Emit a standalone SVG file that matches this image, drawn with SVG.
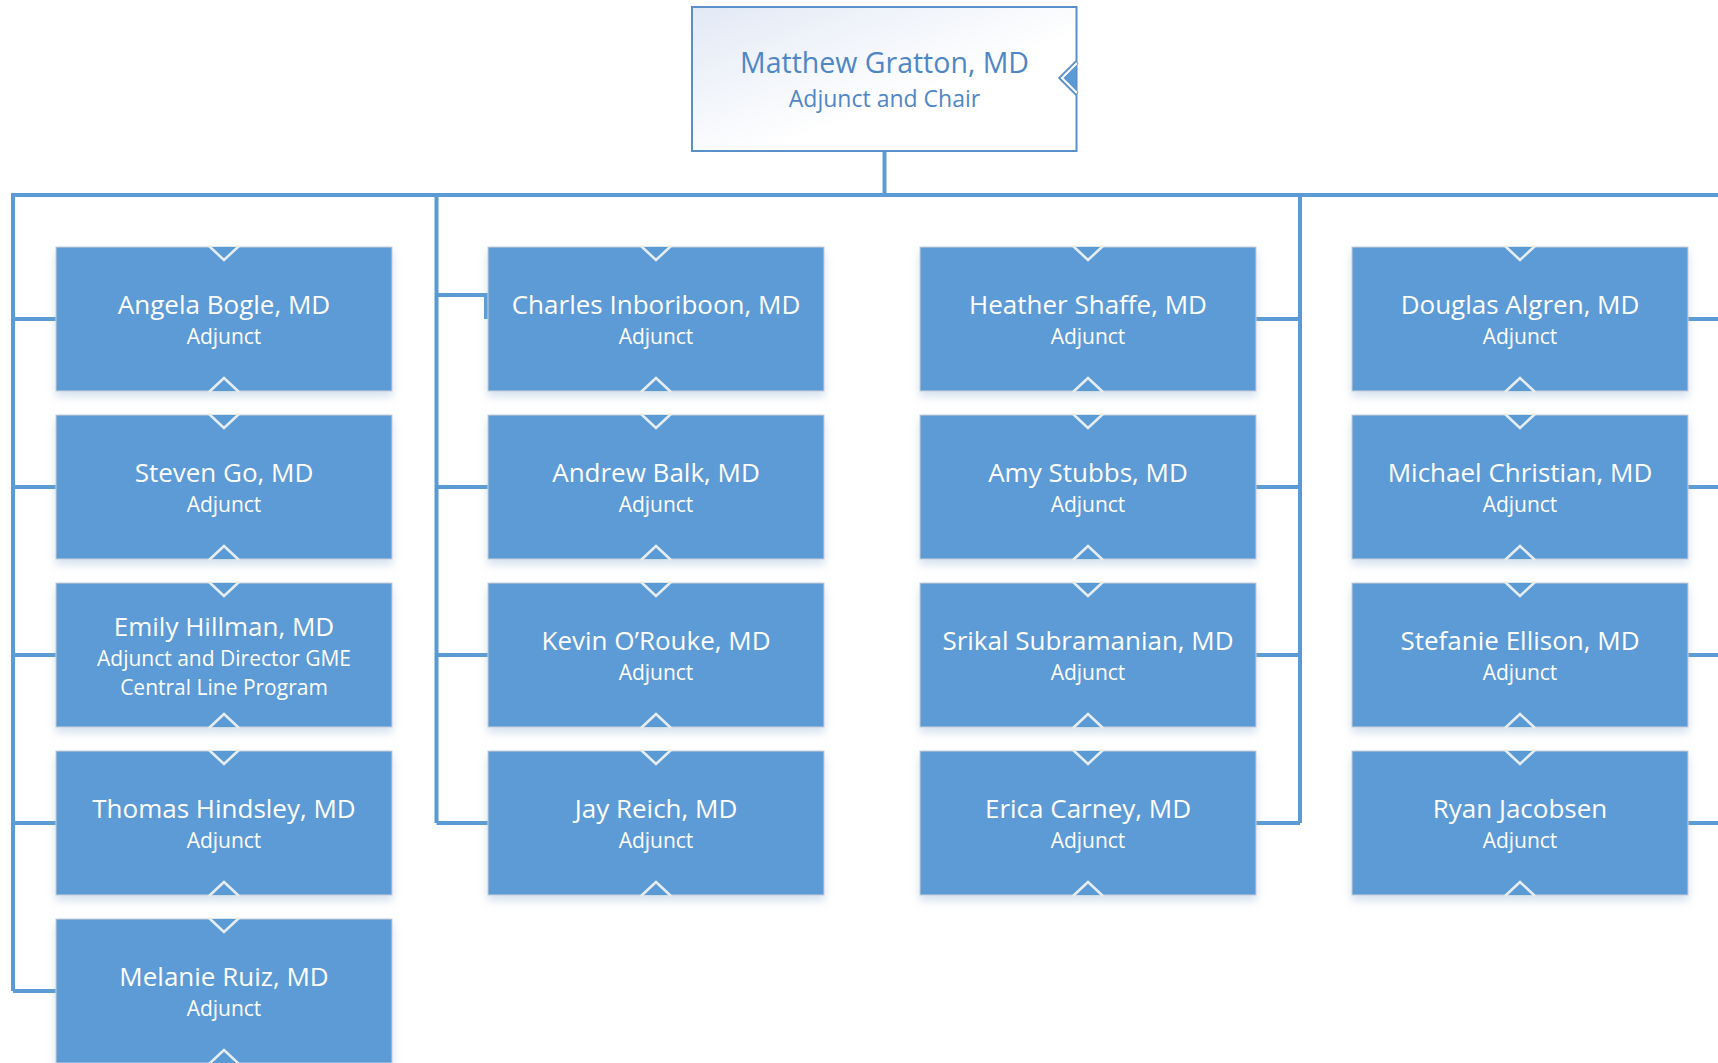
<svg xmlns="http://www.w3.org/2000/svg" xmlns:xlink="http://www.w3.org/1999/xlink" width="1718" height="1063" viewBox="0 0 1718 1063">
<style>
.ln{fill:none;stroke:#5b9bd5;stroke-width:4}
.nm{font-family:"Open Sans","Noto Sans",sans-serif;font-size:26px;fill:#ffffff;text-anchor:middle}
.sb{font-family:"Open Sans","Noto Sans",sans-serif;font-size:21px;fill:#ffffff;text-anchor:middle}
.tn{font-family:"Open Sans","Noto Sans",sans-serif;font-size:28.5px;fill:#4f87c5;text-anchor:middle}
.ts{font-family:"Open Sans","Noto Sans",sans-serif;font-size:23px;fill:#4f87c5;text-anchor:middle}
</style>
<defs>
<linearGradient id="tg" x1="0" y1="0" x2="1" y2="1">
<stop offset="0" stop-color="#e2e9f5"/>
<stop offset="0.6" stop-color="#ffffff"/>
</linearGradient>
<filter id="sh" x="-10%" y="-10%" width="120%" height="140%">
<feDropShadow dx="0" dy="5" stdDeviation="4" flood-color="#7fa6cc" flood-opacity="0.35"/>
</filter>
<g id="card">
<rect x="0" y="0" width="336" height="144" fill="#5b9bd5" stroke="#c9d0d8" stroke-width="1" filter="url(#sh)"/>
<polygon points="154,0 168,13 182,0" fill="#5b9bd5"/>
<polyline points="153,-1 168,13 183,-1" fill="none" stroke="#e6edf4" stroke-width="2.5"/>
<polygon points="154,144 168,131 182,144" fill="#5b9bd5"/>
<polyline points="153,145 168,131 183,145" fill="none" stroke="#e6edf4" stroke-width="2.5"/>
</g>
</defs>
<rect width="1718" height="1063" fill="#ffffff"/>

<g id="connectors">
<path class="ln" d="M884.5 151 V195"/>
<path class="ln" d="M13 991 V195 H1718"/>
<path class="ln" d="M13 319 H56 M13 487 H56 M13 655 H56 M13 823 H56 M13 991 H56"/>
<path class="ln" d="M436.5 195 V823"/>
<path class="ln" d="M436.5 295 H486 V319"/>
<path class="ln" d="M436.5 487 H488 M436.5 655 H488 M436.5 823 H488"/>
<path class="ln" d="M1300 195 V823"/>
<path class="ln" d="M1256 319 H1300 M1256 487 H1300 M1256 655 H1300 M1256 823 H1300"/>
<path class="ln" d="M1688 319 H1718 M1688 487 H1718 M1688 655 H1718 M1688 823 H1718"/>
</g>

<g id="n-gratton">
<rect x="692" y="7" width="384.5" height="144" fill="url(#tg)" stroke="#5b8fc8" stroke-width="2"/>
<polygon points="1076,64 1062,78 1076,92" fill="#5b9bd5"/>
<polyline points="1077,62 1061,78 1077,94" fill="none" stroke="#5b8fc8" stroke-width="4.5"/>
<polyline points="1077,63 1062,78 1077,93" fill="none" stroke="#ffffff" stroke-width="2"/>
<polygon points="1076,67 1065,78 1076,89" fill="#5b9bd5"/>
<text class="tn" x="884.5" y="73">Matthew Gratton, MD</text>
<text class="ts" x="884.5" y="107">Adjunct and Chair</text>
</g>

<g id="n-bogle"><use href="#card" x="56" y="247"/><text class="nm" x="224" y="314">Angela Bogle, MD</text><text class="sb" x="224" y="344">Adjunct</text></g>
<g id="n-go"><use href="#card" x="56" y="415"/><text class="nm" x="224" y="482">Steven Go, MD</text><text class="sb" x="224" y="512">Adjunct</text></g>
<g id="n-hillman"><use href="#card" x="56" y="583"/><text class="nm" x="224" y="636">Emily Hillman, MD</text><text class="sb" x="224" y="666">Adjunct and Director GME</text><text class="sb" x="224" y="695">Central Line Program</text></g>
<g id="n-hindsley"><use href="#card" x="56" y="751"/><text class="nm" x="224" y="818">Thomas Hindsley, MD</text><text class="sb" x="224" y="848">Adjunct</text></g>
<g id="n-ruiz"><use href="#card" x="56" y="919"/><text class="nm" x="224" y="986">Melanie Ruiz, MD</text><text class="sb" x="224" y="1016">Adjunct</text></g>

<g id="n-inboriboon"><use href="#card" x="488" y="247"/><text class="nm" x="656" y="314">Charles Inboriboon, MD</text><text class="sb" x="656" y="344">Adjunct</text></g>
<g id="n-balk"><use href="#card" x="488" y="415"/><text class="nm" x="656" y="482">Andrew Balk, MD</text><text class="sb" x="656" y="512">Adjunct</text></g>
<g id="n-orouke"><use href="#card" x="488" y="583"/><text class="nm" x="656" y="650">Kevin O’Rouke, MD</text><text class="sb" x="656" y="680">Adjunct</text></g>
<g id="n-reich"><use href="#card" x="488" y="751"/><text class="nm" x="656" y="818">Jay Reich, MD</text><text class="sb" x="656" y="848">Adjunct</text></g>

<g id="n-shaffe"><use href="#card" x="920" y="247"/><text class="nm" x="1088" y="314">Heather Shaffe, MD</text><text class="sb" x="1088" y="344">Adjunct</text></g>
<g id="n-stubbs"><use href="#card" x="920" y="415"/><text class="nm" x="1088" y="482">Amy Stubbs, MD</text><text class="sb" x="1088" y="512">Adjunct</text></g>
<g id="n-subramanian"><use href="#card" x="920" y="583"/><text class="nm" x="1088" y="650">Srikal Subramanian, MD</text><text class="sb" x="1088" y="680">Adjunct</text></g>
<g id="n-carney"><use href="#card" x="920" y="751"/><text class="nm" x="1088" y="818">Erica Carney, MD</text><text class="sb" x="1088" y="848">Adjunct</text></g>

<g id="n-algren"><use href="#card" x="1352" y="247"/><text class="nm" x="1520" y="314">Douglas Algren, MD</text><text class="sb" x="1520" y="344">Adjunct</text></g>
<g id="n-christian"><use href="#card" x="1352" y="415"/><text class="nm" x="1520" y="482">Michael Christian, MD</text><text class="sb" x="1520" y="512">Adjunct</text></g>
<g id="n-ellison"><use href="#card" x="1352" y="583"/><text class="nm" x="1520" y="650">Stefanie Ellison, MD</text><text class="sb" x="1520" y="680">Adjunct</text></g>
<g id="n-jacobsen"><use href="#card" x="1352" y="751"/><text class="nm" x="1520" y="818">Ryan Jacobsen</text><text class="sb" x="1520" y="848">Adjunct</text></g>
</svg>
